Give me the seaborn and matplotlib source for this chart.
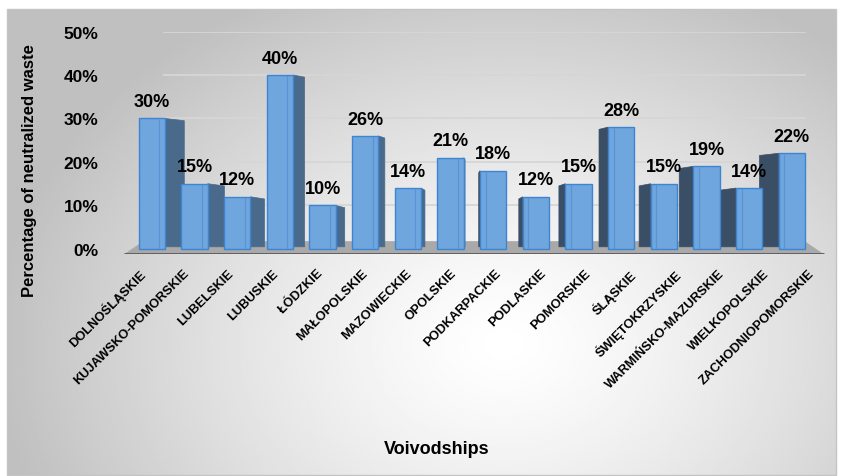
import numpy as np
import matplotlib.pyplot as plt
import seaborn as sns
from matplotlib.patches import Polygon, Rectangle
from matplotlib.ticker import FuncFormatter
import matplotlib.transforms as mtransforms

# data
voivodships = ["DOLNOŚLĄSKIE", "KUJAWSKO-POMORSKIE", "LUBELSKIE", "LUBUSKIE",
               "ŁÓDZKIE", "MAŁOPOLSKIE", "MAZOWIECKIE", "OPOLSKIE",
               "PODKARPACKIE", "PODLASKIE", "POMORSKIE", "ŚLĄSKIE",
               "ŚWIĘTOKRZYSKIE", "WARMIŃSKO-MAZURSKIE", "WIELKOPOLSKIE",
               "ZACHODNIOPOMORSKIE"]
neutralized_pct = [30, 15, 12, 40, 10, 26, 14, 21, 18, 12, 15, 28, 15, 19, 14, 22]

W, H = 841, 477
fig = plt.figure(figsize=(W / 100, H / 100), dpi=100)
plt.rcParams['font.family'] = ['Liberation Sans', 'DejaVu Sans']

# gradient background panel
bg = fig.add_axes([0, 0, 1, 1], zorder=-5)
bg.set_xlim(0, W)
bg.set_ylim(H, 0)
bg.axis('off')
gx, gy = np.meshgrid(np.linspace(0, 1, 400), np.linspace(0, 1, 240))
d = np.sqrt(((gx - 0.6) / 0.62) ** 2 + ((gy - 0.72) / 0.85) ** 2)
shade = 1 - 0.25 * np.clip(d, 0, 1) ** 1.3
bg.imshow(shade, cmap='gray', vmin=0, vmax=1, extent=(7, 836, 476, 10),
          aspect='auto', interpolation='bilinear')
bg.add_patch(Rectangle((7, 10), 829, 466, fill=False, ec='#c4c4c4', lw=1))

# plot area
ax = fig.add_axes([122 / W, 1 - 255.2 / H, 704 / W, 222.7 / H])
ax.set_facecolor('none')
sns.barplot(x=voivodships, y=neutralized_pct, color='#6fa6de', width=0.62,
            saturation=1, edgecolor='#3d85d1', linewidth=1, ax=ax, zorder=4)
bars = list(ax.containers[0])
ax.set_xlim(-0.7, 15.8)
ax.set_ylim(-1.2, 50)

# gridlines at the back
for v in range(10, 51, 10):
    ax.axhline(v, xmin=0.06, xmax=0.97, color='#d6d6d6', lw=1.3, zorder=0)

# floor
ax.add_patch(Polygon([(-0.65, -1.2), (15.75, -1.2), (15.3, 1.8), (-0.2, 1.8)],
                     closed=True, fc='#a9a9a9', ec='none', zorder=1))
ax.plot([-0.65, 15.75], [-1.2, -1.2], color='#5a5a5a', lw=2, zorder=1,
        solid_capstyle='butt')

# fake 3D side faces
n = len(bars)
for i, p in enumerate(bars):
    x0, w, h = p.get_x(), p.get_width(), p.get_height()
    dx = ((n - 1) / 2 - i) * 0.06
    edge = x0 + w if dx > 0 else x0
    side_col = '#4a6a8c' if dx > 0 else '#3a4e66'
    ax.add_patch(Polygon([(edge, 0.5), (edge + dx, 0.5), (edge + dx, h - 0.5),
                          (edge, h)], closed=True, fc=side_col,
                         ec=side_col, lw=0.5, zorder=3))
    xi = x0 + w * (0.78 if dx > 0 else 0.22)
    ax.plot([xi, xi], [0.3, h - 0.3], color='#5a93d2', lw=0.8, zorder=5)

ax.bar_label(ax.containers[0], labels=[f"{v}%" for v in neutralized_pct],
             padding=6, fontsize=13, fontweight='bold', color='black')

for s in ax.spines.values():
    s.set_visible(False)
ax.set_yticks(range(0, 51, 10))
ax.yaxis.set_major_formatter(FuncFormatter(lambda v, _: f"{int(v)}%"))
ax.tick_params(axis='y', length=0, pad=17, labelsize=12.5)
ax.tick_params(axis='x', length=0, pad=9)
for lbl in ax.get_yticklabels():
    lbl.set_fontweight('bold')
ax.set_xticks(range(n))
ax.set_xticklabels(voivodships, rotation=45, ha='right',
                   rotation_mode='anchor', fontsize=9.3, fontweight='bold')
# perspective: label ends drift from left of the bar to right of it
for i, lbl in enumerate(ax.get_xticklabels()):
    shift = mtransforms.ScaledTranslation((-14 + 2 * i) / 100, 0,
                                          fig.dpi_scale_trans)
    lbl.set_transform(lbl.get_transform() + shift)
ax.set_xlabel('')
ax.set_ylabel('')

fig.text(30 / W, 1 - 171 / H, 'Percentage of neutralized waste', rotation=90,
         ha='center', va='center', fontsize=12, fontweight='bold')
fig.text(437 / W, 1 - 450 / H, 'Voivodships', ha='center', va='center',
         fontsize=13, fontweight='bold')

fig.savefig('out.png', dpi=100)
